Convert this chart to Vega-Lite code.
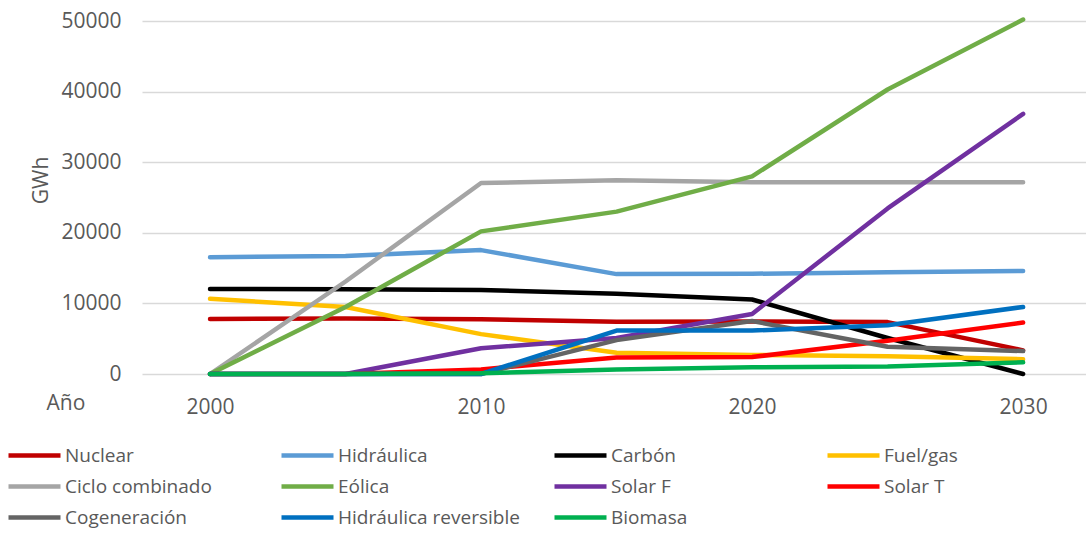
{
  "$schema": "https://vega.github.io/schema/vega-lite/v6.json",
  "autosize": {"type": "none"},
  "padding": {"left": 142, "top": 21, "right": 0, "bottom": 160},
  "width": 944,
  "height": 353,
  "background": "white",
  "config": {
    "font": "Open Sans",
    "view": {"stroke": null},
    "axis": {"labelColor": "#595959", "titleColor": "#595959", "labelFontSize": 21, "titleFontSize": 21, "titleFontWeight": "normal"},
    "legend": {"labelColor": "#595959", "labelFontSize": 19}
  },
  "data": {
    "values": [
      {"fuente": "Nuclear", "anio": 2000, "gwh": 7800},
      {"fuente": "Nuclear", "anio": 2005, "gwh": 7850},
      {"fuente": "Nuclear", "anio": 2010, "gwh": 7750},
      {"fuente": "Nuclear", "anio": 2015, "gwh": 7400},
      {"fuente": "Nuclear", "anio": 2020, "gwh": 7450},
      {"fuente": "Nuclear", "anio": 2025, "gwh": 7350},
      {"fuente": "Nuclear", "anio": 2030, "gwh": 3350},
      {"fuente": "Hidráulica", "anio": 2000, "gwh": 16550},
      {"fuente": "Hidráulica", "anio": 2005, "gwh": 16700},
      {"fuente": "Hidráulica", "anio": 2010, "gwh": 17550},
      {"fuente": "Hidráulica", "anio": 2015, "gwh": 14150},
      {"fuente": "Hidráulica", "anio": 2020, "gwh": 14200},
      {"fuente": "Hidráulica", "anio": 2025, "gwh": 14400},
      {"fuente": "Hidráulica", "anio": 2030, "gwh": 14600},
      {"fuente": "Carbón", "anio": 2000, "gwh": 12050},
      {"fuente": "Carbón", "anio": 2005, "gwh": 12000},
      {"fuente": "Carbón", "anio": 2010, "gwh": 11900},
      {"fuente": "Carbón", "anio": 2015, "gwh": 11350},
      {"fuente": "Carbón", "anio": 2020, "gwh": 10550},
      {"fuente": "Carbón", "anio": 2025, "gwh": 5100},
      {"fuente": "Carbón", "anio": 2030, "gwh": 0},
      {"fuente": "Fuel/gas", "anio": 2000, "gwh": 10650},
      {"fuente": "Fuel/gas", "anio": 2005, "gwh": 9500},
      {"fuente": "Fuel/gas", "anio": 2010, "gwh": 5650},
      {"fuente": "Fuel/gas", "anio": 2015, "gwh": 3000},
      {"fuente": "Fuel/gas", "anio": 2020, "gwh": 2700},
      {"fuente": "Fuel/gas", "anio": 2025, "gwh": 2500},
      {"fuente": "Fuel/gas", "anio": 2030, "gwh": 2100},
      {"fuente": "Ciclo combinado", "anio": 2000, "gwh": 0},
      {"fuente": "Ciclo combinado", "anio": 2005, "gwh": 13100},
      {"fuente": "Ciclo combinado", "anio": 2010, "gwh": 27050},
      {"fuente": "Ciclo combinado", "anio": 2015, "gwh": 27450},
      {"fuente": "Ciclo combinado", "anio": 2020, "gwh": 27150},
      {"fuente": "Ciclo combinado", "anio": 2025, "gwh": 27150},
      {"fuente": "Ciclo combinado", "anio": 2030, "gwh": 27150},
      {"fuente": "Eólica", "anio": 2000, "gwh": 0},
      {"fuente": "Eólica", "anio": 2005, "gwh": 9500},
      {"fuente": "Eólica", "anio": 2010, "gwh": 20200},
      {"fuente": "Eólica", "anio": 2015, "gwh": 23000},
      {"fuente": "Eólica", "anio": 2020, "gwh": 28000},
      {"fuente": "Eólica", "anio": 2025, "gwh": 40300},
      {"fuente": "Eólica", "anio": 2030, "gwh": 50200},
      {"fuente": "Solar F", "anio": 2000, "gwh": 0},
      {"fuente": "Solar F", "anio": 2005, "gwh": 0},
      {"fuente": "Solar F", "anio": 2010, "gwh": 3650},
      {"fuente": "Solar F", "anio": 2015, "gwh": 5100},
      {"fuente": "Solar F", "anio": 2020, "gwh": 8500},
      {"fuente": "Solar F", "anio": 2025, "gwh": 23450},
      {"fuente": "Solar F", "anio": 2030, "gwh": 36850},
      {"fuente": "Solar T", "anio": 2000, "gwh": 0},
      {"fuente": "Solar T", "anio": 2005, "gwh": 0},
      {"fuente": "Solar T", "anio": 2010, "gwh": 650},
      {"fuente": "Solar T", "anio": 2015, "gwh": 2350},
      {"fuente": "Solar T", "anio": 2020, "gwh": 2400},
      {"fuente": "Solar T", "anio": 2025, "gwh": 4700},
      {"fuente": "Solar T", "anio": 2030, "gwh": 7300},
      {"fuente": "Cogeneración", "anio": 2000, "gwh": 0},
      {"fuente": "Cogeneración", "anio": 2005, "gwh": 0},
      {"fuente": "Cogeneración", "anio": 2010, "gwh": 0},
      {"fuente": "Cogeneración", "anio": 2015, "gwh": 4800},
      {"fuente": "Cogeneración", "anio": 2020, "gwh": 7500},
      {"fuente": "Cogeneración", "anio": 2025, "gwh": 3850},
      {"fuente": "Cogeneración", "anio": 2030, "gwh": 3250},
      {"fuente": "Hidráulica reversible", "anio": 2000, "gwh": 0},
      {"fuente": "Hidráulica reversible", "anio": 2005, "gwh": 0},
      {"fuente": "Hidráulica reversible", "anio": 2010, "gwh": 0},
      {"fuente": "Hidráulica reversible", "anio": 2015, "gwh": 6150},
      {"fuente": "Hidráulica reversible", "anio": 2020, "gwh": 6150},
      {"fuente": "Hidráulica reversible", "anio": 2025, "gwh": 6900},
      {"fuente": "Hidráulica reversible", "anio": 2030, "gwh": 9500},
      {"fuente": "Biomasa", "anio": 2000, "gwh": 0},
      {"fuente": "Biomasa", "anio": 2005, "gwh": 0},
      {"fuente": "Biomasa", "anio": 2010, "gwh": 100},
      {"fuente": "Biomasa", "anio": 2015, "gwh": 650},
      {"fuente": "Biomasa", "anio": 2020, "gwh": 950},
      {"fuente": "Biomasa", "anio": 2025, "gwh": 1050},
      {"fuente": "Biomasa", "anio": 2030, "gwh": 1650}
    ]
  },
  "mark": {"type": "line", "strokeWidth": 4.5, "strokeCap": "round", "strokeJoin": "round"},
  "encoding": {
    "x": {
      "field": "anio",
      "type": "quantitative",
      "scale": {"domain": [1997.49, 2032.32], "nice": false, "zero": false},
      "axis": {
        "title": "Año",
        "titleAnchor": "start",
        "titleAlign": "left",
        "titleBaseline": "alphabetic",
        "titleX": -96,
        "titleY": 35,
        "values": [2000, 2010, 2020, 2030],
        "format": "d",
        "grid": false,
        "domain": false,
        "ticks": false,
        "tickSize": 0,
        "labelPadding": 22,
        "labelFlush": false
      }
    },
    "y": {
      "field": "gwh",
      "type": "quantitative",
      "scale": {"domain": [0, 50000], "nice": false},
      "axis": {
        "title": "GWh",
        "titleAngle": -90,
        "titleAlign": "center",
        "titleBaseline": "alphabetic",
        "titleX": -95,
        "titleY": 159,
        "values": [0, 10000, 20000, 30000, 40000, 50000],
        "format": "d",
        "grid": true,
        "gridColor": "#d9d9d9",
        "gridWidth": 1.3,
        "domain": false,
        "ticks": false,
        "tickSize": 0,
        "labelPadding": 21,
        "labelFlush": false
      }
    },
    "color": {
      "field": "fuente",
      "type": "nominal",
      "scale": {
        "domain": ["Nuclear", "Hidráulica", "Carbón", "Fuel/gas", "Ciclo combinado", "Eólica", "Solar F", "Solar T", "Cogeneración", "Hidráulica reversible", "Biomasa"],
        "range": ["#c00000", "#5b9bd5", "#000000", "#ffc000", "#a5a5a5", "#70ad47", "#7030a0", "#ff0000", "#646464", "#0070c0", "#00b050"]
      },
      "legend": {
        "title": null,
        "orient": "none",
        "legendX": -136,
        "legendY": 422,
        "direction": "horizontal",
        "columns": 4,
        "gridAlign": "all",
        "columnPadding": 32,
        "rowPadding": 6,
        "clipHeight": 25,
        "symbolType": "stroke",
        "symbolSize": 2704,
        "symbolStrokeWidth": 4.5,
        "labelOffset": 2,
        "labelLimit": 400
      }
    }
  }
}
